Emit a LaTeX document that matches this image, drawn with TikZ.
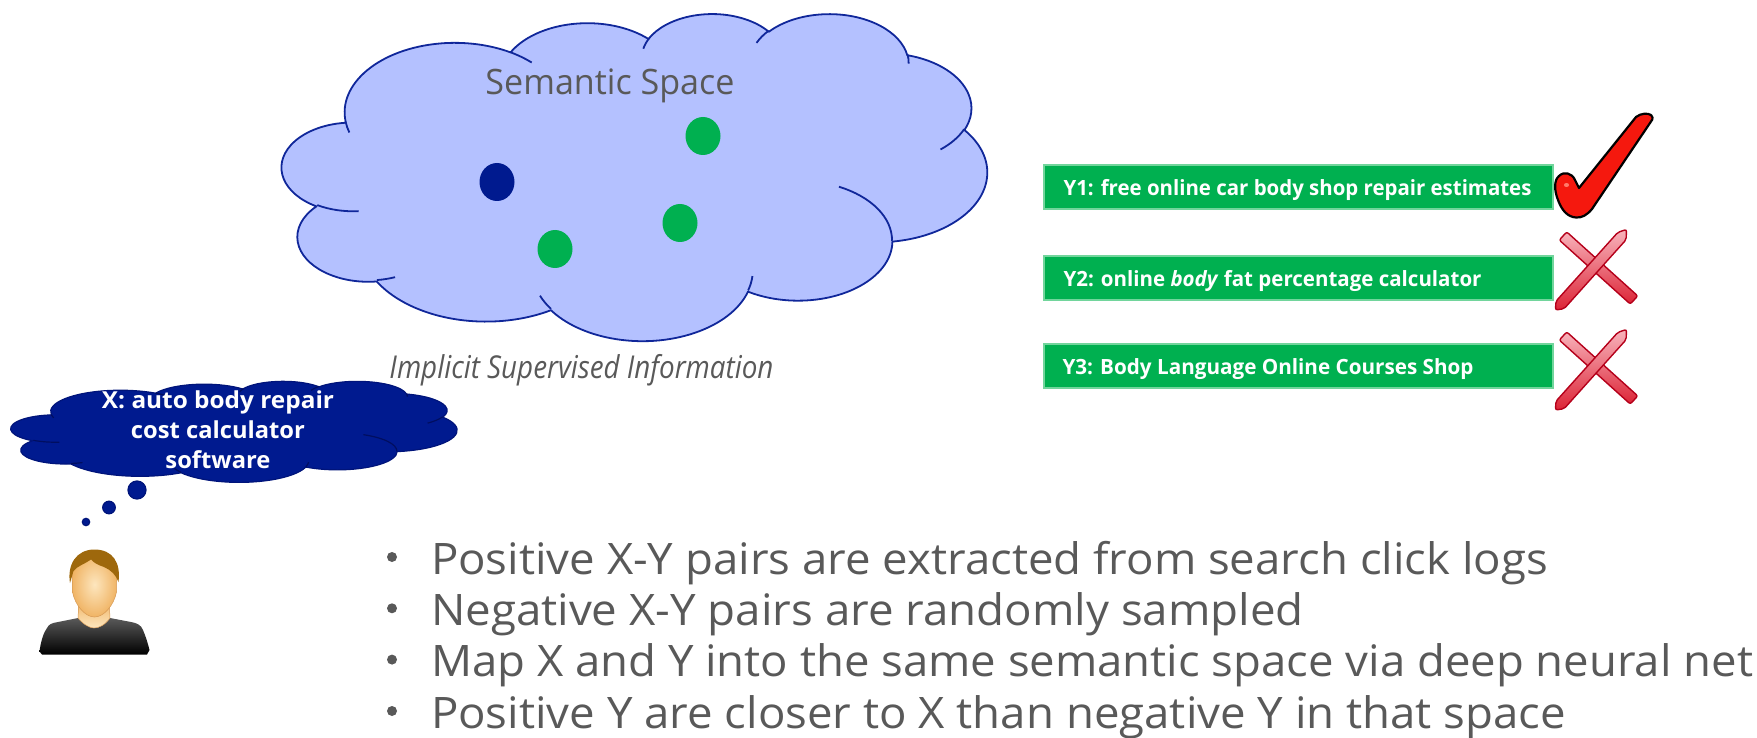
\documentclass[tikz,border=0pt]{standalone}
\usepackage{fontspec}
\setmainfont{Open Sans}
\usepackage{graphicx}

\definecolor{txtgray}{HTML}{595959}
\definecolor{cloudfill}{HTML}{B4C1FF}
\definecolor{cloudedge}{HTML}{10279A}
\definecolor{navy}{HTML}{001A8F}
\definecolor{navyedge}{HTML}{00147A}
\definecolor{creasenavy}{HTML}{000E60}
\definecolor{dotgreen}{HTML}{00B050}
\definecolor{boxgreen}{HTML}{00B050}
\definecolor{boxedge}{HTML}{72D59C}
\definecolor{checkred}{HTML}{F5180E}
\definecolor{checkshine}{HTML}{FF7A6A}
\definecolor{crossdark}{HTML}{B5001A}
\definecolor{crossmid}{HTML}{DC2436}
\definecolor{crosslight}{HTML}{F8B4BC}
\definecolor{hair}{HTML}{9E680C}
\definecolor{skinlight}{HTML}{FDE6BE}
\definecolor{skindark}{HTML}{F0B465}
\definecolor{skinedge}{HTML}{D79A55}

% convert a visual start angle and sweep on an ellipse into parametric angles
\newcommand\ooconv[4]{%
  \pgfmathsetmacro\ooa{atan2((#1)*sin(#3),(#2)*cos(#3))}%
  \pgfmathsetmacro\oob{atan2((#1)*sin((#3)+(#4)),(#2)*cos((#3)+(#4)))}%
  \pgfmathsetmacro\ood{mod(\oob-(\ooa)+720,360)}%
  \global\let\ooS\ooa\global\let\ooD\ood}
\newcommand\ooarc[4]{\pgfextra{\ooconv{#1}{#2}{#3}{#4}}%
  arc[start angle=\ooS, delta angle=\ooD, x radius=#1, y radius=#2]}

% cloud outline in a 432 x 432 design box, scaled to the given box
% #1 body style, #2 crease style, #3/#4 top left corner, #5/#6 width/height
\newcommand\oocloud[6]{%
  \pgfmathsetmacro\oocw{#5/432}\pgfmathsetmacro\ooch{#6/432}%
  \begin{scope}[shift={(#3,#4)}, x=\oocw pt, y=-\ooch pt]
    \path[#1] (39.00,143.70)
      \ooarc{67.53}{91.90}{-190.4875}{123.7805}
      \ooarc{53.33}{72.67}{-144.1024}{89.9452}
      \ooarc{43.65}{59.45}{-145.8079}{99.7230}
      \ooarc{48.57}{65.95}{-130.9861}{117.2417}
      \ooarc{53.33}{72.73}{-78.7089}{109.0269}
      \ooarc{67.75}{92.20}{-46.2673}{130.2690}
      \ooarc{57.85}{78.67}{0.6250}{114.0333}
      \ooarc{67.52}{92.15}{22.4516}{115.1726}
      \ooarc{77.20}{105.43}{66.2426}{75.7110}
      \ooarc{43.60}{59.18}{-274.9421}{146.7356}
      \ooarc{43.45}{59.45}{-246.8285}{152.5189}
      -- cycle;
    \path[#2]
      (46.93,261.77) \ooarc{43.45}{59.45}{86.7420}{26.4295}
      (69.28,348.99) \ooarc{43.60}{59.18}{73.6105}{11.4475}
      (164.78,390.90) \ooarc{67.52}{92.15}{137.6242}{14.0811}
      (288.27,347.51) \ooarc{67.52}{92.15}{6.4533}{15.9984}
      (341.29,229.54) \ooarc{57.85}{78.67}{-70.2924}{70.9174}
      (417.98,153.54) \ooarc{53.33}{72.73}{30.3180}{27.7515}
      (383.24,54.26) \ooarc{48.57}{65.95}{-13.7443}{14.8589}
      (290.78,39.52) \ooarc{48.57}{65.95}{-149.1815}{18.1954}
      (221.41,47.20) \ooarc{43.65}{59.45}{-163.4943}{17.6864}
      (140.00,51.92) \ooarc{67.53}{91.90}{-66.7070}{12.3194}
      (41.27,157.89) \ooarc{67.53}{91.90}{157.6544}{11.8582};
  \end{scope}}

% glossy red cross, shifted by #1/#2
\newcommand\redcross[2]{%
  \begin{scope}[shift={(#1,#2)}]
    \path[crossarm] (1559.3,240.1) -- (1566.7,231.9) -- (1637.7,295.9) -- (1630.3,304.1) -- cycle;
    \path[crossarm] (1617.9,232.3) -- (1626.5,229.5) -- (1626.1,239.7) -- (1564.1,308.7)
      -- (1555.5,310) -- (1555.9,301.3) -- cycle;
  \end{scope}}

\begin{document}
\begin{tikzpicture}[x=1pt, y=-1pt,
  cloudbody/.style={fill=cloudfill, draw=cloudedge, line width=1.8pt, line join=round},
  cloudcrease/.style={draw=cloudedge, line width=1.8pt},
  thoughtbody/.style={fill=navy, draw=navyedge, line width=1.2pt, line join=round},
  thoughtcrease/.style={draw=creasenavy, line width=1.2pt},
  txtnode/.style={inner sep=0pt, outer sep=0pt},
  semtext/.style={txtnode, text=txtgray, font=\fontsize{35}{42}\selectfont, anchor=base},
  imptext/.style={txtnode, text=txtgray, font=\fontsize{31.5}{38}\selectfont\itshape, anchor=base},
  bullettext/.style={txtnode, text=txtgray, font=\fontsize{43.4}{52}\selectfont, anchor=base west},
  bulletdot/.style={fill=txtgray},
  ybox/.style={draw=boxedge, fill=boxgreen, line width=2pt, minimum width=509pt, minimum height=44pt, inner sep=0pt},
  ylabel/.style={txtnode, text=white, font=\fontsize{21}{25}\selectfont\bfseries, anchor=base west},
  xlabel/.style={txtnode, text=white, font=\fontsize{23.4}{30}\selectfont\bfseries, anchor=base},
  checkmark/.style={fill=checkred, draw=black, line width=2.2pt, line join=round},
  crossarm/.style={top color=crosslight, bottom color=crossmid, draw=crossdark, line width=1.4pt, rounded corners=2pt, line join=round},
  shirt/.style={top color=black!65, bottom color=black},
  skin/.style={top color=skindark, bottom color=skinlight, draw=skinedge, line width=0.5pt},
  face/.style={inner color=skinlight, outer color=skindark, draw=skinedge, line width=0.5pt},
  hairstyle/.style={fill=hair}
]
\useasboundingbox (0,0) rectangle (1757,738);

% semantic space cloud with the embedded points
\oocloud{cloudbody}{cloudcrease}{282}{13}{705}{327}
\fill[navy] (497,182) ellipse[x radius=17.5pt, y radius=19pt];
\fill[dotgreen] (703,136) ellipse[x radius=17.5pt, y radius=19pt];
\fill[dotgreen] (680,223) ellipse[x radius=17.5pt, y radius=19pt];
\fill[dotgreen] (555,249) ellipse[x radius=17.5pt, y radius=19pt];
\node[semtext] (semantic) at (610,95) {\resizebox{249pt}{\height}{Semantic Space}};
\node[imptext] (implicit) at (581.5,378) {\resizebox{384pt}{\height}{Implicit Supervised Information}};

% query thought bubble
\oocloud{thoughtbody}{thoughtcrease}{11}{381}{446}{101}
\path[thoughtbody] (137,490) circle[radius=9pt];
\path[thoughtbody] (109,507.5) circle[radius=6.3pt];
\path[thoughtbody] (86,522) circle[radius=3.7pt];
\node[xlabel] (x1) at (218,408) {\resizebox{232pt}{\height}{X: auto body repair}};
\node[xlabel] (x2) at (218,438) {\resizebox{174pt}{\height}{cost calculator}};
\node[xlabel] (x3) at (218,468) {\resizebox{105pt}{\height}{software}};

% user
\path[shirt] (39.5,651.5) .. controls (41,640) and (44,632) .. (47,628)
  .. controls (49,624) and (52,623) .. (58,622) -- (78,618)
  .. controls (84,625) and (90,628) .. (94,628) .. controls (99,628) and (105,625) .. (110,618)
  -- (131,622) .. controls (137,623) and (141,625) .. (143,630)
  .. controls (146,637) and (148,644) .. (149.5,650) -- (147,654.5) -- (42,654.5) -- cycle;
\path[skin] (79,600) -- (78,618) .. controls (84,625) and (90,628) .. (94,628)
  .. controls (99,628) and (105,625) .. (110,618) -- (109,600) -- cycle;
\path[face] (72,570) -- (72.5,592) .. controls (75,605) and (85,617) .. (94.5,617)
  .. controls (104,617) and (114,605) .. (116.5,592) -- (117,570)
  .. controls (117,557) and (108,552) .. (94.5,552) .. controls (81,552) and (72,557) .. (72,570) -- cycle;
\path[hairstyle] (70,583) .. controls (67,565) and (76,549.5) .. (94.5,549.5)
  .. controls (113,549.5) and (121,563) .. (118.5,582)
  .. controls (116,575) and (111,570) .. (104,567)
  .. controls (98,565) and (94,563) .. (91,559.5)
  .. controls (85,564) and (77,566) .. (73.5,571) -- cycle;

% candidate documents
\node[ybox] (y1) at (1298.5,187) {};
\node[ybox] (y2) at (1298.5,278) {};
\node[ybox] (y3) at (1298,366) {};
\node[ylabel] (y1t) at (1063.5,196) {\resizebox{468pt}{\height}{Y1: free online car body shop repair estimates}};
\node[ylabel] (y2t) at (1063.5,286) {\resizebox{418pt}{\height}{Y2: online \textit{body} fat percentage calculator}};
\node[ylabel] (y3t) at (1062.5,374) {\resizebox{411pt}{\height}{Y3: Body Language Online Courses Shop}};

% verdict marks
\path[checkmark] (1579,188) -- (1636,117) .. controls (1641,113) and (1648,113) .. (1651,115)
  .. controls (1654,118) and (1652,121) .. (1650,123) -- (1592,209)
  .. controls (1587,215) and (1582,218) .. (1576,217.5)
  .. controls (1568,217) and (1562,211) .. (1558,200)
  .. controls (1554,190) and (1554,180) .. (1559,176)
  .. controls (1564,171) and (1572,173) .. (1575,180) -- cycle;
\fill[checkshine] (1566.5,185) ellipse[x radius=2.6pt, y radius=2pt];
\redcross{0}{0}
\redcross{0}{100}

% key points
\fill[bulletdot] (392,557) circle[radius=5pt];
\fill[bulletdot] (392,608.3) circle[radius=5pt];
\fill[bulletdot] (392,659.6) circle[radius=5pt];
\fill[bulletdot] (392,711) circle[radius=5pt];
\node[bullettext] (b1) at (431,574) {\resizebox{1117pt}{\height}{Positive X-Y pairs are extracted from search click logs}};
\node[bullettext] (b2) at (431,625.3) {\resizebox{873pt}{\height}{Negative X-Y pairs are randomly sampled}};
\node[bullettext] (b3) at (431,676.6) {\resizebox{1322pt}{\height}{Map X and Y into the same semantic space via deep neural net}};
\node[bullettext] (b4) at (431,728) {\resizebox{1135pt}{\height}{Positive Y are closer to X than negative Y in that space}};
\end{tikzpicture}
\end{document}
